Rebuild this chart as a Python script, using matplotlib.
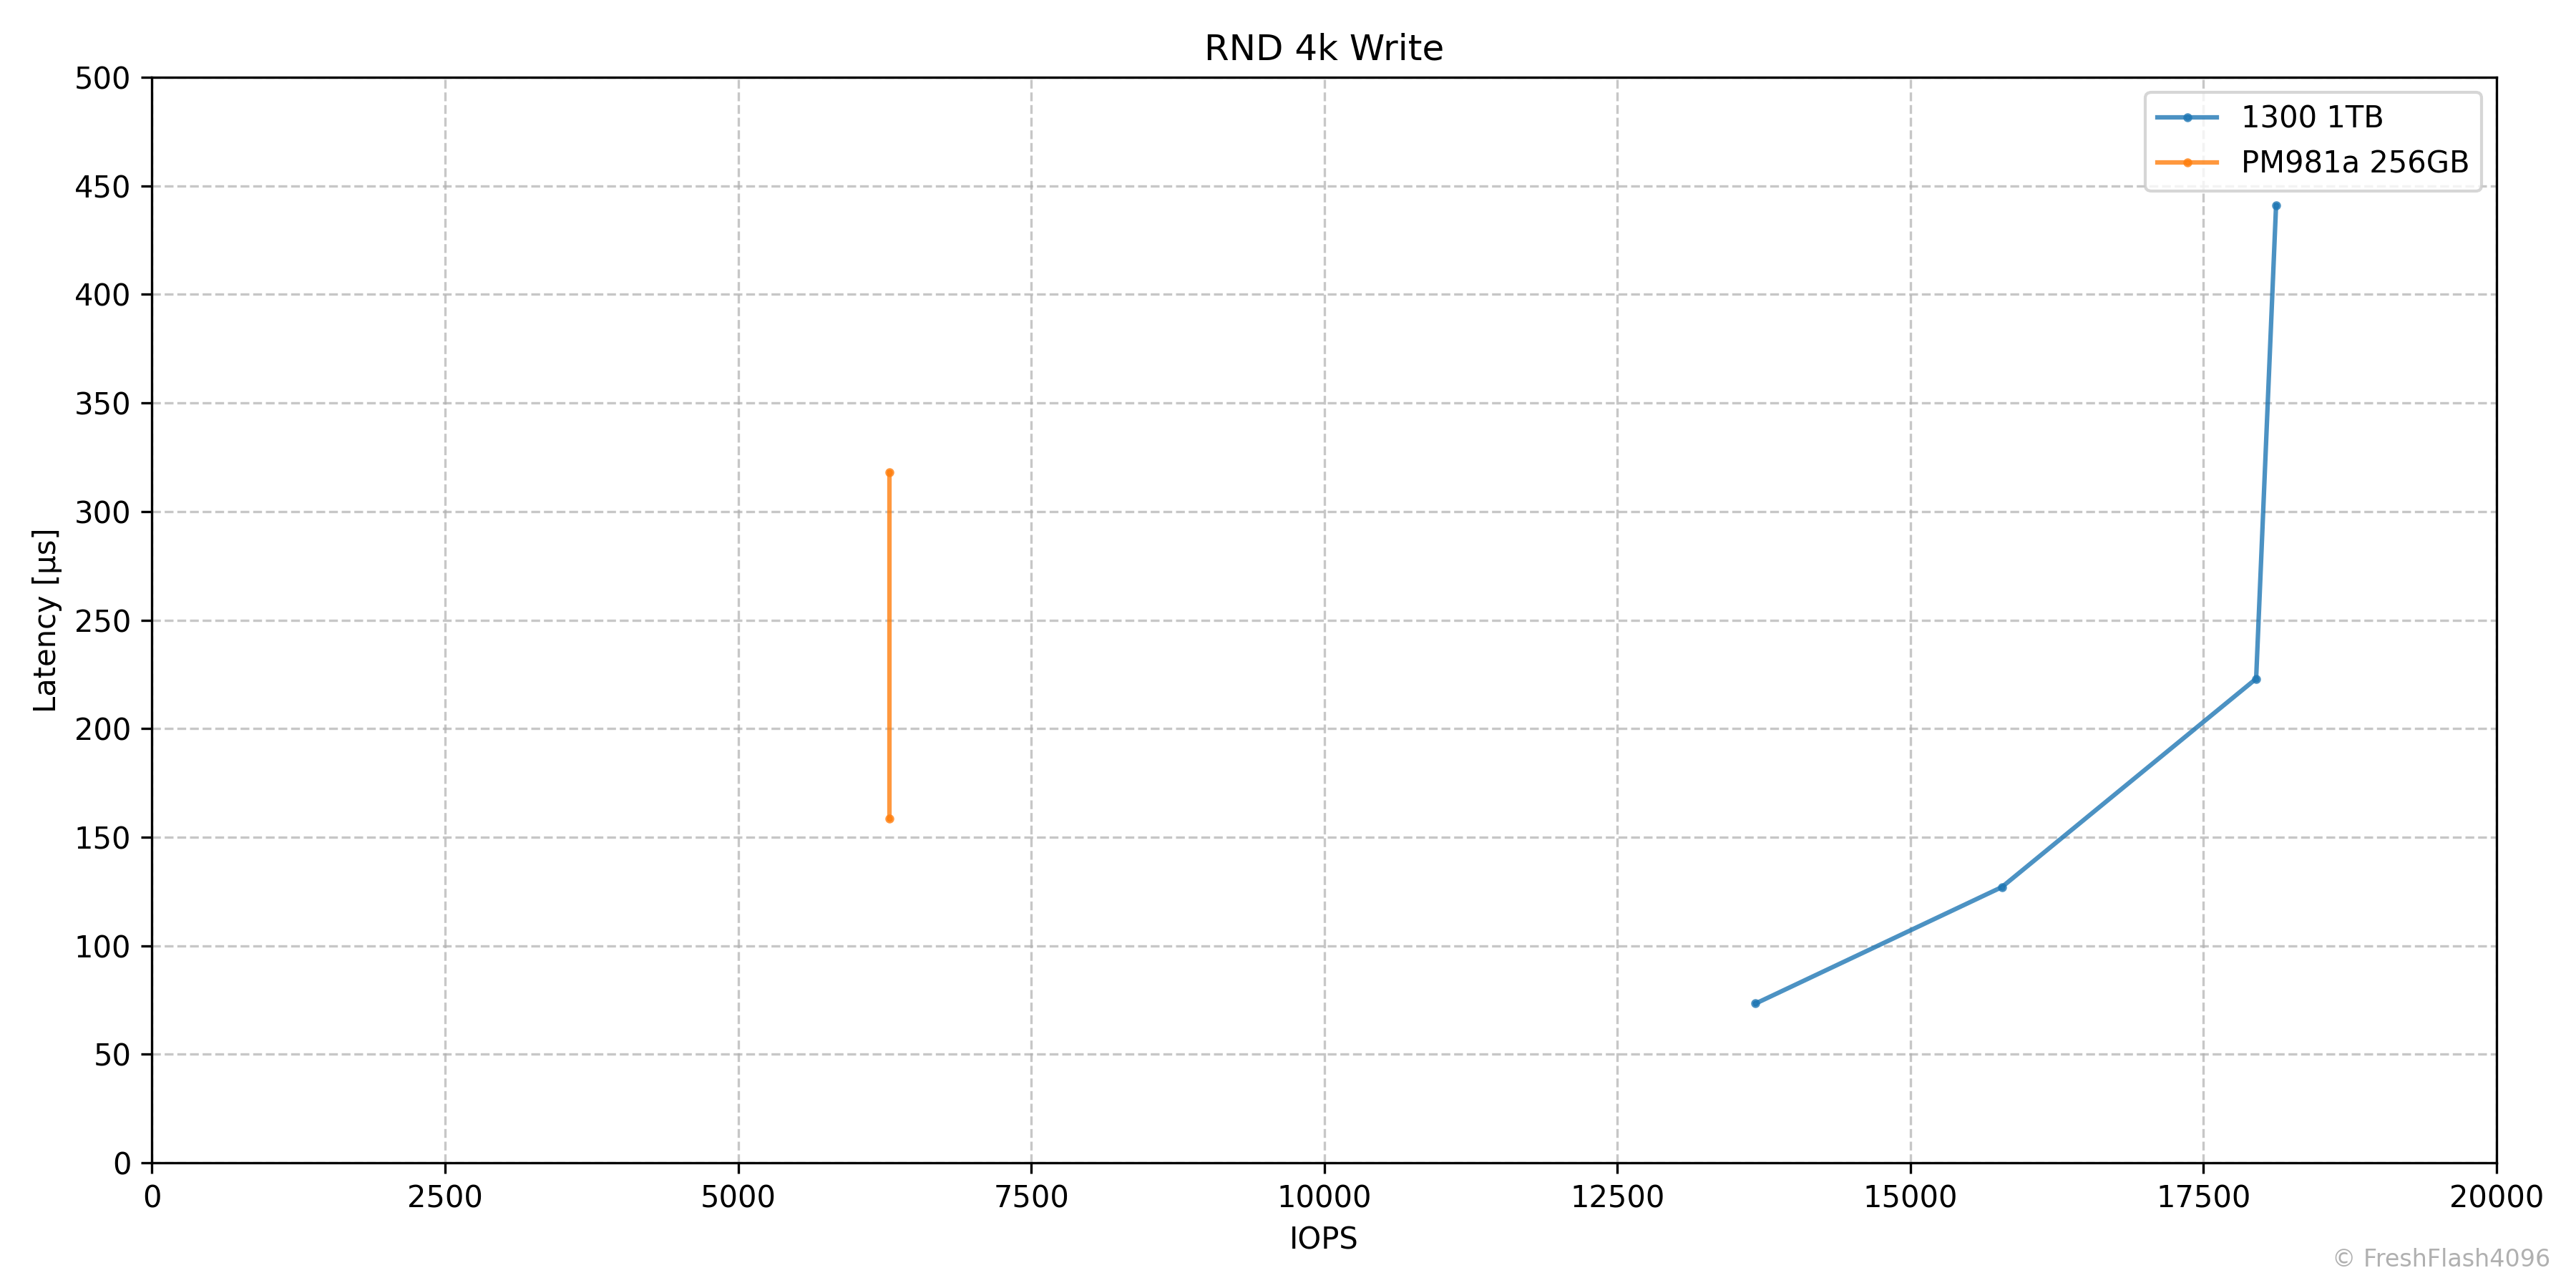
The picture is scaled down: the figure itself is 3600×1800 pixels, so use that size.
import numpy as np
import matplotlib.pyplot as plt

# 1300 1TB
iops_1300 = [13680, 15780, 17950, 18120]
lat_1300 = [73.4, 127.0, 223.0, 441.0]

# PM981a 256GB
iops_pm981a = [6290, 6290]
lat_pm981a = [158.5, 318.0]

fig, ax = plt.subplots(figsize=(12, 6), dpi=300)
ax.plot(iops_1300, lat_1300, marker='o', markersize=2, linewidth=1.5, alpha=0.8, label='1300 1TB')
ax.plot(iops_pm981a, lat_pm981a, marker='o', markersize=2, linewidth=1.5, alpha=0.8, label='PM981a 256GB')

ax.set_xlim(0, 20000)
ax.set_ylim(0, 500)
ax.set_xticks(np.arange(0, 20001, 2500))
ax.set_yticks(np.arange(0, 501, 50))
ax.set_xlabel('IOPS')
ax.set_ylabel('Latency [µs]')
ax.set_title('RND 4k Write')
ax.grid(True, linestyle='--', alpha=0.7)
ax.legend(loc='upper right')

fig.tight_layout()
fig.text(0.99, 0.013, '© FreshFlash4096', ha='right', va='bottom', fontsize=8, color='#b0b0b0')
fig.savefig('out.png')
